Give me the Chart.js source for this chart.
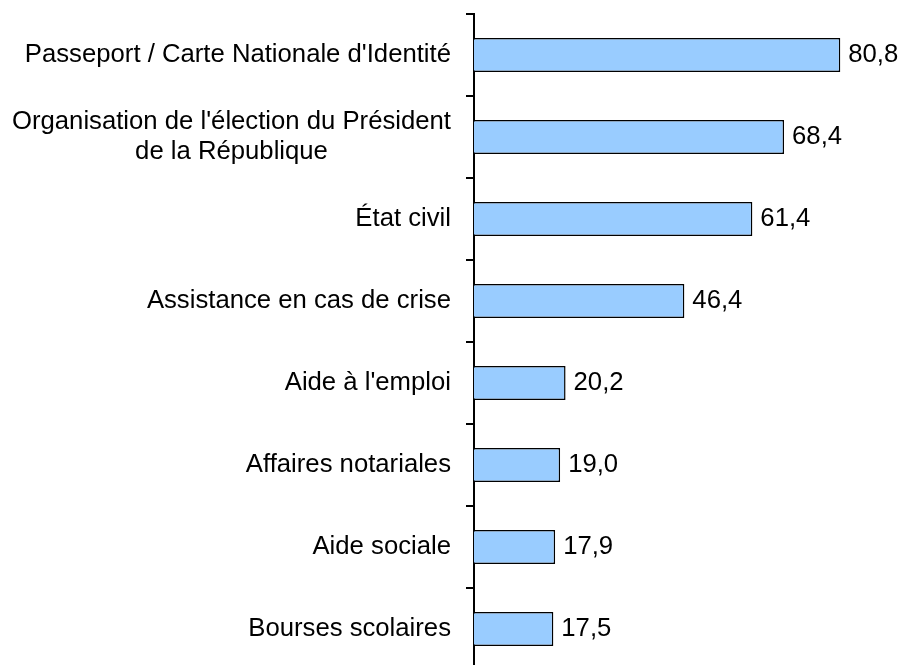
<!DOCTYPE html>
<html>
<head>
<meta charset="utf-8">
<script src="https://cdn.jsdelivr.net/npm/chart.js@4"></script>
<style>
  html, body { margin: 0; padding: 0; background: #fff; overflow: hidden; }
  #wrap { position: relative; width: 901px; height: 670px; }
</style>
</head>
<body>
<div id="wrap"><canvas id="services-chart"></canvas></div>
<script>
const categories = [
  "Passeport / Carte Nationale d'Identité",
  ["Organisation de l'élection du Président", 'de la République'],
  'État civil',
  'Assistance en cas de crise',
  "Aide à l'emploi",
  'Affaires notariales',
  'Aide sociale',
  'Bourses scolaires'
]
const values = [80.8, 68.4, 61.4, 46.4, 20.2, 19.0, 17.9, 17.5]

const font_family = "'Liberation Sans', Arial, sans-serif"
const font_size = 25.7

// draws category labels (multi-line ones centered) and value labels
const labelPlugin = {
  id: 'labelPlugin',
  afterDraw: chart => {
    const ctx = chart.ctx
    const yScale = chart.scales.y
    const meta = chart.getDatasetMeta(0)
    ctx.save()
    ctx.font = font_size + 'px ' + font_family
    ctx.fillStyle = '#000'
    ctx.textBaseline = 'middle'
    const right = yScale.right - 8 - 15
    categories.forEach((cat, i) => {
      const y = yScale.getPixelForTick(i)
      if (Array.isArray(cat)) {
        let maxW = 0
        cat.forEach(line => { maxW = Math.max(maxW, ctx.measureText(line).width) })
        const cx = right - maxW / 2
        const lh = 30
        ctx.textAlign = 'center'
        cat.forEach((line, j) => {
          ctx.fillText(line, cx, y + (j - (cat.length - 1) / 2) * lh)
        })
      } else {
        ctx.textAlign = 'right'
        ctx.fillText(cat, right, y)
      }
    })
    ctx.textAlign = 'left'
    meta.data.forEach((bar, i) => {
      ctx.fillText(values[i].toFixed(1).replace('.', ','), bar.x + 8, bar.y)
    })
    ctx.restore()
  }
}

new Chart(document.getElementById('services-chart'), {
  type: 'bar',
  data: {
    labels: categories,
    datasets: [{
      data: values,
      backgroundColor: '#99ccff',
      borderColor: '#000',
      borderWidth: 1.5,
      barPercentage: 0.415,
      categoryPercentage: 1
    }]
  },
  options: {
    indexAxis: 'y',
    responsive: true,
    maintainAspectRatio: false,
    animation: false,
    layout: { padding: { top: 14, right: 19, bottom: 0, left: 0 } },
    plugins: {
      legend: { display: false },
      tooltip: { enabled: false }
    },
    scales: {
      x: {
        display: false,
        min: 0,
        max: 90
      },
      y: {
        afterFit: scale => { scale.width = 474 },
        ticks: { display: false },
        border: { display: true, color: '#000', width: 2 },
        grid: {
          offset: true,
          drawOnChartArea: false,
          drawTicks: true,
          tickLength: 8,
          color: '#000',
          lineWidth: 2
        }
      }
    }
  },
  plugins: [labelPlugin]
});
</script>
</body>
</html>
